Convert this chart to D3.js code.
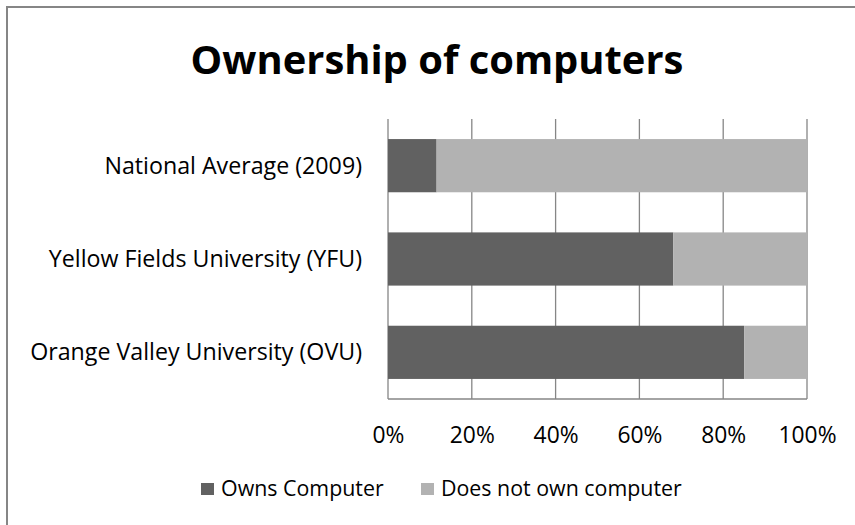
<!DOCTYPE html>
<html><head><meta charset="utf-8">
<script src="https://cdn.jsdelivr.net/npm/d3@7"></script>
<style>body{margin:0;background:#fff;} svg{display:block;} text{font-family:"Open Sans", sans-serif;fill:#000;}</style>
</head><body>
<svg id="c" width="855" height="525"></svg>
<script>
const categories = ["National Average (2009)", "Yellow Fields University (YFU)", "Orange Valley University (OVU)"];
const ownsComputer = [0.116, 0.681, 0.85];
const doesNotOwn = [0.884, 0.319, 0.15];
const seriesNames = ["Owns Computer", "Does not own computer"];
const seriesColors = ["#616161", "#b2b2b2"];
const xTicks = [0, 0.2, 0.4, 0.6, 0.8, 1.0];

const svg = d3.select("#c");
svg.append("rect").attr("x",7).attr("y",7).attr("width",860).attr("height",540)
  .attr("fill","#fff").attr("stroke","#868686").attr("stroke-width",2);

const L=388, R=807, T=119, B=399;
const x = d3.scaleLinear().domain([0,1]).range([L,R]);
const y = d3.scaleBand().domain(categories).range([T,B]).paddingInner(0.43).paddingOuter(0.215);

function fit(sel, target){
  sel.each(function(){
    const n=this, s=+d3.select(n).attr("font-size"), w=n.getComputedTextLength();
    if(w>0) d3.select(n).attr("font-size", s*target/w);
  });
}

svg.append("g").selectAll("line").data(xTicks).join("line")
  .attr("x1",d=>x(d)).attr("x2",d=>x(d)).attr("y1",T).attr("y2",B)
  .attr("stroke","#868686").attr("stroke-width",1.3);

const rows = categories.map((c,i)=>({c, v:[ownsComputer[i], doesNotOwn[i]]}));
const stacked = d3.stack().keys([0,1]).value((d,k)=>d.v[k])(rows);
svg.append("g").selectAll("g").data(stacked).join("g").attr("fill",(d,i)=>seriesColors[i])
  .selectAll("rect").data(d=>d).join("rect")
  .attr("x",d=>x(d[0])).attr("width",d=>x(d[1])-x(d[0]))
  .attr("y",d=>y(d.data.c)).attr("height",y.bandwidth());

svg.append("line").attr("x1",L).attr("x2",R).attr("y1",B).attr("y2",B).attr("stroke","#868686").attr("stroke-width",1.3);

const xAxis = d3.axisBottom(x).tickValues(xTicks).tickFormat(d3.format(".0%")).tickSize(0).tickPadding(0);
const gx = svg.append("g").attr("transform",`translate(0,${B+44})`).call(xAxis);
gx.select(".domain").remove();
gx.selectAll("text").attr("font-size",20).attr("fill","#000").attr("font-family","'Open Sans', sans-serif").attr("dy",0);
fit(gx.selectAll("text").filter(d=>d===0.2), 45);
const tfs = gx.selectAll("text").filter(d=>d===0.2).attr("font-size");
gx.selectAll("text").attr("font-size",tfs);

const yAxis = d3.axisLeft(y).tickSize(0).tickPadding(0);
const gy = svg.append("g").attr("transform",`translate(${L-26},0)`).call(yAxis);
gy.select(".domain").remove();
gy.selectAll("text").attr("font-size",20).attr("fill","#000").attr("font-family","'Open Sans', sans-serif").attr("dy",0)
  .attr("y",8);
fit(gy.selectAll("text").filter(d=>d===categories[2]), 332);
const yfs = gy.selectAll("text").filter(d=>d===categories[2]).attr("font-size");
gy.selectAll("text").attr("font-size",yfs);

const title = svg.append("text").attr("x",437).attr("y",74).attr("text-anchor","middle")
  .attr("font-size",36).attr("font-weight","bold").text("Ownership of computers");
fit(title, 493);

const legX = [201, 421];
const lg = svg.append("g").selectAll("g").data(seriesNames).join("g")
  .attr("transform",(d,i)=>`translate(${legX[i]},0)`);
lg.append("rect").attr("x",0).attr("y",483).attr("width",13).attr("height",12).attr("fill",(d,i)=>seriesColors[i]);
const lt = lg.append("text").attr("x",20).attr("y",496).attr("font-size",20).text(d=>d);
fit(lt.filter((d,i)=>i===1), 241);
lt.attr("font-size", lt.filter((d,i)=>i===1).attr("font-size"));
</script>
</body></html>
